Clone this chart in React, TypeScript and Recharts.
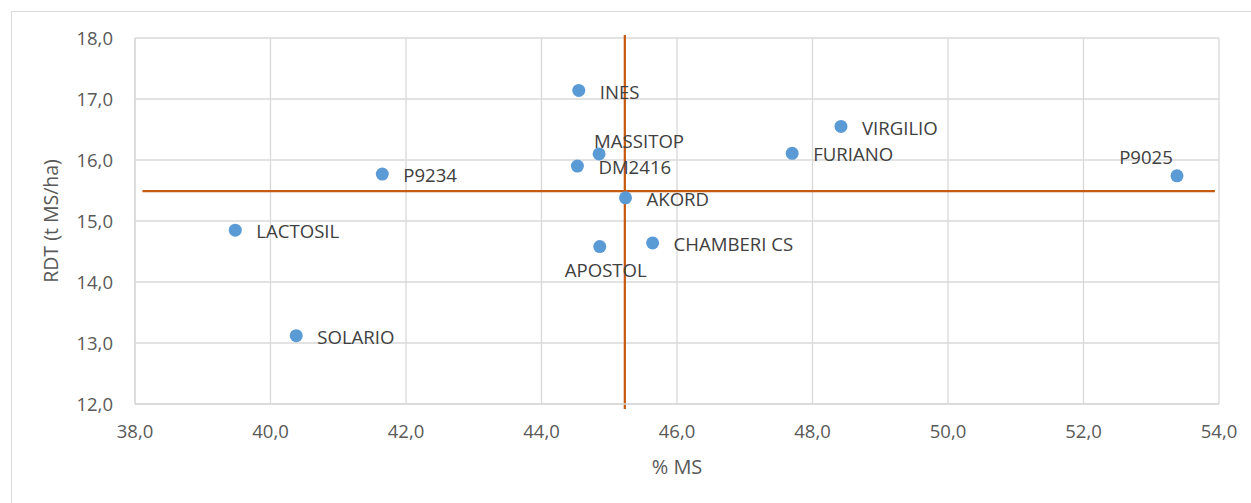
import React from 'react';
import {
  ScatterChart,
  Scatter,
  XAxis,
  YAxis,
  CartesianGrid,
  ReferenceLine,
} from 'recharts';

// ---- data ----
const varieties = [
  'INES', 'MASSITOP', 'DM2416', 'AKORD', 'CHAMBERI CS', 'APOSTOL',
  'FURIANO', 'VIRGILIO', 'P9025', 'P9234', 'LACTOSIL', 'SOLARIO',
];
const msPercent = [44.55, 44.85, 44.53, 45.24, 45.64, 44.86, 47.7, 48.42, 53.38, 41.65, 39.48, 40.38];
const rdt = [17.14, 16.1, 15.9, 15.38, 14.64, 14.58, 16.11, 16.55, 15.74, 15.77, 14.85, 13.12];

const xTicks = [38, 40, 42, 44, 46, 48, 50, 52, 54];
const yTicks = [12, 13, 14, 15, 16, 17, 18];

// mean lines
const meanMS = 45.23;
const meanRDT = 15.49;
const hLineX = [38.11, 53.94];
const vLineY = [18.05, 11.92];

// ---- styling ----
const FONT = '"Open Sans", sans-serif';
const TICK_COLOR = '#595959';
const LABEL_COLOR = '#404040';
const POINT_COLOR = '#5B9BD5';
const LINE_COLOR = '#C55A11';
const GRID_COLOR = '#d9d9d9';

const labelPlacement: Record<string, { dx: number; dy: number; anchor: 'start' | 'middle' | 'end' }> = {
  MASSITOP: { dx: -5, dy: -13, anchor: 'start' },
  APOSTOL: { dx: 6, dy: 23.5, anchor: 'middle' },
  P9025: { dx: -31, dy: -18.6, anchor: 'middle' },
};
const defaultPlacement = { dx: 21, dy: 1.5, anchor: 'start' as const };

const data = varieties.map((name, i) => ({ name, x: msPercent[i], y: rdt[i] }));

const fmt = (v: number) => v.toFixed(1).replace('.', ',');

const PointShape = (props: any) => {
  const { cx, cy, payload } = props;
  if (cx == null || cy == null) return null;
  const p = labelPlacement[payload.name] || defaultPlacement;
  return (
    <g>
      <circle cx={cx} cy={cy} r={6.5} fill={POINT_COLOR} />
      <text
        x={cx + p.dx}
        y={cy + p.dy + 6.6}
        textAnchor={p.anchor}
        fontFamily={FONT}
        fontSize={18.6}
        fill={LABEL_COLOR}
      >
        {payload.name}
      </text>
    </g>
  );
};

export default function App() {
  return (
    <div
      style={{
        position: 'absolute',
        left: 0,
        top: 0,
        width: 1251,
        height: 503,
        overflow: 'hidden',
        background: '#fff',
      }}
    >
      <div
        style={{
          position: 'absolute',
          left: 11,
          top: 11,
          width: 1260,
          height: 510,
          border: `1px solid ${GRID_COLOR}`,
          boxSizing: 'border-box',
        }}
      />
      <div style={{ position: 'absolute', left: 0, top: 0 }}>
        <ScatterChart
          width={1251}
          height={503}
          margin={{ top: 38, right: 32, left: 75, bottom: 69 }}
        >
          <CartesianGrid stroke={GRID_COLOR} strokeWidth={1.3} />
          <XAxis
            type="number"
            dataKey="x"
            domain={[38, 54]}
            ticks={xTicks}
            tickFormatter={fmt}
            height={30}
            tickSize={0}
            tickMargin={21}
            tickLine={false}
            axisLine={{ stroke: GRID_COLOR, strokeWidth: 1.3 }}
            tick={{ fill: TICK_COLOR, fontSize: 18.5, fontFamily: FONT }}
            interval={0}
            label={{
              content: () => (
                <text
                  x={677}
                  y={474}
                  textAnchor="middle"
                  fontFamily={FONT}
                  fontSize={20}
                  fill={TICK_COLOR}
                >
                  % MS
                </text>
              ),
            }}
          />
          <YAxis
            type="number"
            dataKey="y"
            domain={[12, 18]}
            ticks={yTicks}
            tickFormatter={fmt}
            width={60}
            tickSize={0}
            tickMargin={22}
            tickLine={false}
            axisLine={{ stroke: GRID_COLOR, strokeWidth: 1.3 }}
            tick={{ fill: TICK_COLOR, fontSize: 18.5, fontFamily: FONT }}
            interval={0}
            label={{
              content: () => (
                <text
                  x={58}
                  y={221}
                  transform="rotate(-90 58 221)"
                  textAnchor="middle"
                  fontFamily={FONT}
                  fontSize={19.5}
                  fill={TICK_COLOR}
                >
                  RDT (t MS/ha)
                </text>
              ),
            }}
          />
          <Scatter data={data} isAnimationActive={false} shape={PointShape} />
          <ReferenceLine
            segment={[
              { x: hLineX[0], y: meanRDT },
              { x: hLineX[1], y: meanRDT },
            ]}
            ifOverflow="visible"
            stroke={LINE_COLOR}
            strokeWidth={2.25}
          />
          <ReferenceLine
            segment={[
              { x: meanMS, y: vLineY[0] },
              { x: meanMS, y: vLineY[1] },
            ]}
            ifOverflow="visible"
            stroke={LINE_COLOR}
            strokeWidth={2.25}
          />
        </ScatterChart>
      </div>
    </div>
  );
}
